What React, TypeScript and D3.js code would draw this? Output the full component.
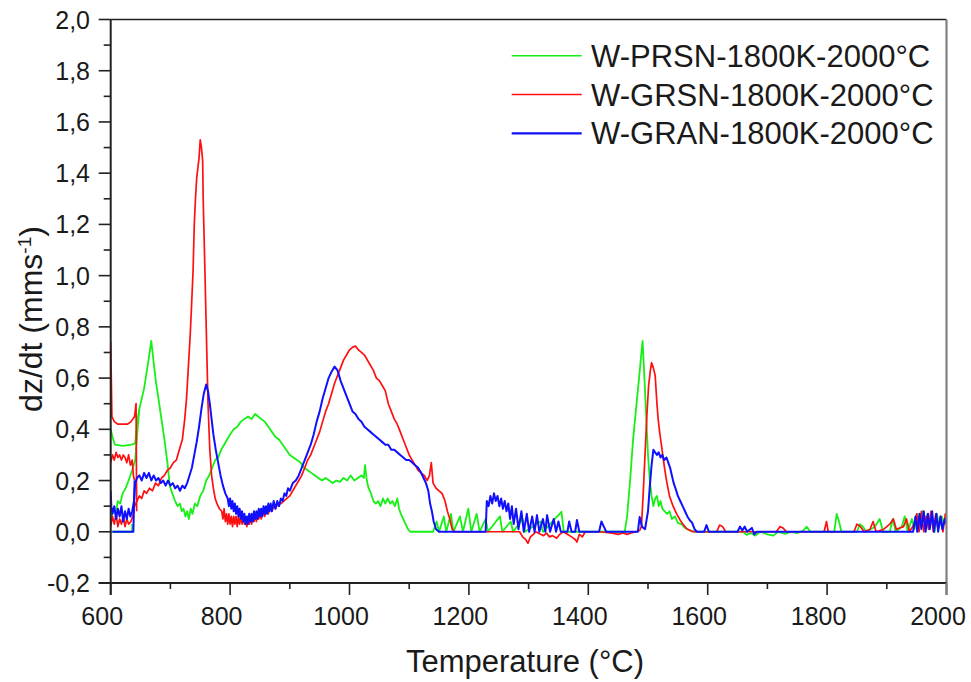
import React from "react";
import * as d3 from "d3";

type Pt = [number, number];

// ---------- axis ticks ----------
const xMajorTicks = [600, 800, 1000, 1200, 1400, 1600, 1800, 2000];
const xMinorTicks = [700, 900, 1100, 1300, 1500, 1700, 1900];
const yMajorTicks = [-0.2, 0, 0.2, 0.4, 0.6, 0.8, 1.0, 1.2, 1.4, 1.6, 1.8, 2.0];
const yMinorTicks = [-0.1, 0.1, 0.3, 0.5, 0.7, 0.9, 1.1, 1.3, 1.5, 1.7, 1.9];

const seriesNames = ["W-PRSN-1800K-2000°C", "W-GRSN-1800K-2000°C", "W-GRAN-1800K-2000°C"];
const seriesColors = ["#16f016", "#ff1010", "#1010ff"];

// ---------- W-PRSN (green) ----------
const prsnStartFlat: Pt[] = [[600, 0.0], [636, 0.0], [636, 0.03]];
const prsnStartUpper: Pt[] = [[600, 0.40], [603, 0.37], [607, 0.34], [620, 0.335], [635, 0.34], [641, 0.345], [644, 0.42], [648, 0.48]];
const prsnMain: Pt[] = [
  [601, 0.05], [604, 0.09], [608, 0.07], [612, 0.12], [616, 0.11], [620, 0.15], [625, 0.17], [630, 0.2], [636, 0.24], [641, 0.28],
  [645, 0.4], [648, 0.48], [652, 0.52], [656, 0.56], [660, 0.62], [664, 0.68], [668, 0.745], [672, 0.66], [676, 0.58], [680, 0.52],
  [685, 0.44], [690, 0.36], [695, 0.27], [699, 0.18], [703, 0.15], [708, 0.12], [712, 0.1], [716, 0.11], [719, 0.08], [722, 0.09],
  [725, 0.06], [728, 0.08], [731, 0.05], [734, 0.09], [737, 0.07], [741, 0.11], [745, 0.1], [750, 0.14], [755, 0.16], [760, 0.2],
  [765, 0.22], [770, 0.25], [775, 0.28], [780, 0.29], [785, 0.32], [790, 0.34], [795, 0.36], [800, 0.38], [806, 0.4], [812, 0.41],
  [818, 0.43], [824, 0.44], [830, 0.45], [836, 0.44], [842, 0.46], [847, 0.45], [852, 0.44], [858, 0.43], [864, 0.41], [870, 0.39],
  [876, 0.37], [882, 0.36], [888, 0.34], [894, 0.32], [900, 0.3], [906, 0.29], [912, 0.28], [918, 0.27], [924, 0.25], [930, 0.24],
  [936, 0.23], [942, 0.22], [948, 0.21], [954, 0.2], [960, 0.21], [966, 0.2], [972, 0.19], [978, 0.2], [984, 0.195], [990, 0.21],
  [996, 0.2], [1002, 0.22], [1008, 0.2], [1014, 0.21], [1020, 0.22], [1024, 0.21], [1026, 0.26], [1029, 0.2], [1032, 0.17], [1036, 0.15],
  [1040, 0.12], [1044, 0.11], [1048, 0.12], [1052, 0.1], [1056, 0.13], [1060, 0.11], [1064, 0.13], [1068, 0.11], [1072, 0.12], [1076, 0.1],
  [1080, 0.13], [1083, 0.09], [1086, 0.07], [1090, 0.05], [1094, 0.03], [1098, 0.01], [1102, 0.0], [1140, 0.0], [1146, 0.04], [1150, 0.0],
  [1158, 0.06], [1162, 0.0], [1170, 0.07], [1174, 0.0], [1185, 0.06], [1190, 0.0], [1199, 0.09], [1204, 0.0], [1213, 0.07], [1218, 0.0],
  [1228, 0.05], [1232, 0.0], [1252, 0.06], [1256, 0.0], [1270, 0.04], [1274, 0.0], [1290, 0.05], [1294, 0.0], [1320, 0.04], [1324, 0.0],
  [1355, 0.078], [1359, 0.0], [1461, 0.0], [1465, 0.06], [1470, 0.2], [1475, 0.36], [1480, 0.48], [1485, 0.6], [1489, 0.7], [1491, 0.745],
  [1494, 0.6], [1497, 0.45], [1500, 0.3], [1503, 0.2], [1506, 0.14], [1509, 0.1], [1512, 0.13], [1515, 0.14], [1518, 0.1], [1521, 0.12],
  [1524, 0.09], [1528, 0.08], [1532, 0.07], [1536, 0.08], [1540, 0.05], [1545, 0.06], [1550, 0.035], [1556, 0.03], [1562, 0.015], [1570, 0.005],
  [1580, 0.0], [1660, 0.0], [1665, -0.012], [1672, -0.005], [1680, -0.015], [1688, 0.0], [1700, -0.01], [1710, -0.015], [1718, 0.0], [1730, -0.008],
  [1740, 0.0], [1750, -0.005], [1760, 0.005], [1766, 0.02], [1772, 0.0], [1812, 0.0], [1816, 0.07], [1820, 0.04], [1824, 0.0], [1850, 0.0],
  [1855, 0.03], [1860, 0.02], [1866, 0.0], [1880, 0.02], [1888, 0.05], [1894, 0.0], [1905, 0.0], [1910, 0.05], [1915, 0.0], [1925, 0.02],
  [1930, 0.06], [1935, 0.0], [1942, 0.05], [1946, 0.01], [1952, 0.07], [1956, 0.02], [1960, 0.08], [1964, 0.01], [1968, 0.07], [1972, 0.02],
  [1976, 0.06], [1980, 0.0], [1984, 0.07], [1988, 0.02], [1992, 0.06], [1996, 0.03], [2000, 0.05],
];

// ---------- W-GRSN (red) ----------
const grsnStartUpper: Pt[] = [[600, 0.74], [601, 0.6], [602, 0.45], [606, 0.43], [612, 0.42], [620, 0.42], [628, 0.42], [634, 0.43], [640, 0.45], [642.5, 0.5], [643, 0.3], [643.5, 0.08]];
const grsnStartMiddle: Pt[] = [[600, 0.27], [603, 0.3], [606, 0.28], [609, 0.31], [612, 0.29], [615, 0.3], [618, 0.28], [621, 0.3], [624, 0.29], [627, 0.27], [630, 0.3], [633, 0.26], [636, 0.28], [638, 0.22], [640, 0.2]];
const grsnMain: Pt[] = [
  [600, 0.02], [603, 0.06], [606, 0.03], [609, 0.07], [612, 0.02], [615, 0.05], [618, 0.03], [621, 0.06], [624, 0.02], [627, 0.05],
  [630, 0.03], [634, 0.04], [637, 0.06], [640, 0.1], [644, 0.12], [648, 0.14], [652, 0.13], [656, 0.16], [660, 0.15], [665, 0.17],
  [670, 0.16], [675, 0.19], [680, 0.18], [685, 0.21], [690, 0.22], [695, 0.24], [700, 0.25], [705, 0.27], [710, 0.28], [715, 0.32],
  [720, 0.36], [724, 0.44], [727, 0.52], [730, 0.64], [733, 0.76], [735, 0.86], [738, 1.02], [740, 1.2], [742, 1.3], [744, 1.38],
  [746, 1.42], [748, 1.46], [750, 1.53], [752, 1.5], [754, 1.45], [755, 1.29], [757, 1.1], [759, 0.9], [761, 0.7], [763, 0.5],
  [766, 0.32], [769, 0.22], [772, 0.17], [775, 0.13], [778, 0.11], [782, 0.09], [786, 0.08], [788, 0.05], [790, 0.09], [792, 0.04],
  [794, 0.07], [796, 0.03], [798, 0.07], [800, 0.03], [802, 0.06], [804, 0.02], [806, 0.06], [808, 0.03], [810, 0.06], [812, 0.02],
  [814, 0.06], [816, 0.03], [818, 0.06], [820, 0.03], [822, 0.06], [824, 0.03], [826, 0.05], [828, 0.02], [830, 0.06], [832, 0.03],
  [834, 0.06], [836, 0.03], [838, 0.06], [840, 0.04], [842, 0.07], [844, 0.04], [846, 0.07], [848, 0.05], [850, 0.08], [852, 0.05],
  [855, 0.08], [858, 0.06], [861, 0.09], [864, 0.07], [867, 0.1], [870, 0.08], [873, 0.1], [876, 0.09], [880, 0.11], [885, 0.11],
  [890, 0.12], [895, 0.13], [900, 0.14], [905, 0.16], [910, 0.18], [915, 0.2], [920, 0.22], [925, 0.25], [930, 0.28], [935, 0.3],
  [940, 0.33], [945, 0.36], [950, 0.39], [955, 0.43], [960, 0.47], [965, 0.5], [970, 0.54], [975, 0.58], [980, 0.61], [985, 0.64],
  [990, 0.67], [995, 0.69], [1000, 0.71], [1005, 0.72], [1010, 0.725], [1015, 0.71], [1020, 0.7], [1025, 0.69], [1030, 0.67], [1035, 0.65],
  [1040, 0.63], [1045, 0.6], [1050, 0.59], [1055, 0.57], [1060, 0.55], [1065, 0.5], [1070, 0.47], [1075, 0.44], [1080, 0.42], [1085, 0.39],
  [1090, 0.36], [1095, 0.33], [1100, 0.3], [1105, 0.28], [1110, 0.26], [1115, 0.24], [1120, 0.23], [1125, 0.22], [1130, 0.2], [1134, 0.22],
  [1137, 0.27], [1140, 0.19], [1145, 0.17], [1150, 0.16], [1155, 0.15], [1160, 0.12], [1164, 0.08], [1168, 0.05], [1172, 0.01], [1176, 0.0],
  [1285, 0.0], [1290, -0.02], [1295, -0.03], [1299, -0.045], [1303, -0.02], [1308, -0.01], [1312, 0.0], [1320, -0.01], [1325, -0.015], [1330, -0.005],
  [1335, -0.02], [1340, -0.015], [1347, -0.025], [1352, -0.01], [1358, 0.0], [1365, -0.01], [1372, -0.02], [1378, -0.03], [1381, -0.04], [1385, -0.01],
  [1390, -0.02], [1395, 0.0], [1420, 0.0], [1440, -0.005], [1450, -0.01], [1458, -0.005], [1465, -0.01], [1472, -0.005], [1480, 0.0], [1486, 0.005],
  [1489, 0.02], [1492, 0.15], [1495, 0.3], [1498, 0.45], [1501, 0.57], [1504, 0.63], [1506, 0.66], [1509, 0.64], [1512, 0.61], [1515, 0.5],
  [1517, 0.44], [1520, 0.38], [1523, 0.33], [1527, 0.26], [1531, 0.2], [1536, 0.14], [1542, 0.1], [1548, 0.07], [1554, 0.045], [1560, 0.025],
  [1565, 0.012], [1575, 0.0], [1615, 0.0], [1620, 0.026], [1625, 0.02], [1630, 0.0], [1715, 0.0], [1721, 0.02], [1726, 0.015], [1732, 0.0],
  [1795, 0.0], [1799, 0.04], [1802, 0.0], [1845, 0.0], [1850, 0.03], [1856, 0.02], [1862, 0.0], [1872, 0.01], [1877, 0.04], [1882, 0.0],
  [1895, 0.01], [1905, 0.03], [1911, 0.05], [1916, 0.01], [1928, 0.02], [1933, 0.05], [1938, 0.0], [1946, 0.03], [1950, 0.07], [1954, 0.0],
  [1958, 0.08], [1962, 0.0], [1966, 0.06], [1970, 0.01], [1974, 0.08], [1978, 0.0], [1982, 0.07], [1986, 0.01], [1990, 0.06], [1994, 0.0],
  [1998, 0.07], [2000, 0.03],
];

// ---------- W-GRAN (blue) ----------
const granStartFlat: Pt[] = [[603, 0.0], [638, 0.0], [640, 0.2]];
const granMain: Pt[] = [
  [600, 0.16], [601, 0.1], [603, 0.07], [606, 0.1], [609, 0.05], [612, 0.09], [615, 0.06], [618, 0.1], [621, 0.04], [624, 0.08],
  [627, 0.05], [630, 0.09], [633, 0.06], [636, 0.08], [639, 0.12], [641, 0.19], [644, 0.21], [648, 0.22], [652, 0.2], [656, 0.23],
  [660, 0.21], [664, 0.23], [668, 0.2], [672, 0.22], [676, 0.2], [680, 0.21], [684, 0.19], [688, 0.2], [692, 0.18], [696, 0.2],
  [700, 0.18], [704, 0.19], [708, 0.17], [712, 0.18], [716, 0.16], [720, 0.18], [724, 0.17], [728, 0.19], [732, 0.22], [736, 0.25],
  [740, 0.3], [744, 0.35], [748, 0.41], [752, 0.48], [756, 0.54], [760, 0.575], [763, 0.55], [766, 0.5], [769, 0.44], [772, 0.38],
  [776, 0.32], [780, 0.27], [784, 0.22], [788, 0.18], [792, 0.15], [796, 0.13], [798, 0.1], [800, 0.13], [802, 0.09], [804, 0.12],
  [806, 0.08], [808, 0.11], [810, 0.07], [812, 0.1], [814, 0.06], [816, 0.09], [818, 0.05], [820, 0.08], [822, 0.04], [824, 0.07],
  [826, 0.03], [828, 0.06], [830, 0.03], [832, 0.07], [834, 0.04], [836, 0.07], [838, 0.04], [840, 0.08], [842, 0.05], [844, 0.08],
  [846, 0.05], [848, 0.09], [850, 0.06], [852, 0.09], [854, 0.06], [856, 0.1], [858, 0.07], [860, 0.1], [862, 0.07], [864, 0.11],
  [866, 0.08], [868, 0.11], [870, 0.08], [873, 0.12], [876, 0.09], [879, 0.12], [882, 0.1], [885, 0.13], [888, 0.12], [891, 0.15],
  [894, 0.14], [897, 0.17], [900, 0.16], [905, 0.19], [910, 0.2], [915, 0.22],
  [920, 0.25], [925, 0.28], [930, 0.31], [935, 0.34], [940, 0.38], [945, 0.43], [950, 0.47], [955, 0.52], [960, 0.56], [965, 0.6],
  [970, 0.625], [975, 0.645], [980, 0.63], [985, 0.59], [990, 0.56], [995, 0.53], [1000, 0.5], [1005, 0.47], [1010, 0.46], [1015, 0.44],
  [1020, 0.43], [1025, 0.41], [1030, 0.4], [1035, 0.39], [1040, 0.38], [1045, 0.37], [1050, 0.36], [1055, 0.35], [1060, 0.34], [1065, 0.34],
  [1070, 0.32], [1075, 0.32], [1080, 0.31], [1085, 0.3], [1090, 0.29], [1095, 0.28], [1100, 0.28], [1105, 0.27], [1110, 0.26], [1115, 0.25],
  [1120, 0.23], [1124, 0.21], [1128, 0.19], [1132, 0.16], [1135, 0.11], [1138, 0.08], [1141, 0.04], [1145, 0.01], [1150, 0.0], [1228, 0.0],
  [1230, 0.12], [1233, 0.1], [1236, 0.14], [1239, 0.11], [1242, 0.15], [1245, 0.12], [1248, 0.14], [1251, 0.1], [1254, 0.13], [1257, 0.09],
  [1260, 0.12], [1263, 0.08], [1266, 0.11], [1269, 0.05], [1272, 0.1], [1275, 0.03], [1279, 0.09], [1283, 0.01], [1288, 0.08], [1292, 0.0],
  [1297, 0.07], [1301, 0.0], [1306, 0.06], [1310, 0.0], [1314, 0.065], [1318, 0.0], [1324, 0.05], [1328, 0.0], [1331, 0.065], [1336, 0.0],
  [1342, 0.05], [1346, 0.0], [1350, 0.04], [1354, 0.0], [1365, 0.0], [1368, 0.04], [1372, 0.0], [1378, 0.0], [1381, 0.046], [1385, 0.0],
  [1418, 0.0], [1422, 0.04], [1426, 0.02], [1430, 0.0], [1483, 0.0], [1486, 0.058], [1490, 0.02], [1495, 0.01], [1500, 0.08], [1503, 0.176],
  [1506, 0.26], [1509, 0.32], [1512, 0.31], [1515, 0.3], [1518, 0.31], [1521, 0.29], [1524, 0.3], [1527, 0.28], [1531, 0.29], [1534, 0.27],
  [1537, 0.25], [1540, 0.22], [1543, 0.19], [1546, 0.17], [1550, 0.14], [1554, 0.12], [1558, 0.1], [1562, 0.08], [1566, 0.06], [1570, 0.045],
  [1574, 0.035], [1578, 0.01], [1582, 0.0], [1594, 0.0], [1598, 0.026], [1602, 0.0], [1650, 0.0], [1654, 0.02], [1658, 0.005], [1662, 0.02],
  [1666, 0.0], [1674, 0.015], [1678, -0.01], [1682, 0.0], [1944, 0.0], [1948, 0.06], [1951, 0.0], [1955, 0.07], [1958, 0.01], [1962, 0.08],
  [1965, 0.0], [1969, 0.07], [1972, 0.01], [1976, 0.08], [1979, 0.0], [1983, 0.07], [1986, 0.0], [1990, 0.06], [1993, 0.01], [1997, 0.05],
  [2000, 0.03],
];

const seriesSegments: Pt[][][] = [
  [prsnStartFlat, prsnStartUpper, prsnMain],
  [grsnStartUpper, grsnStartMiddle, grsnMain],
  [granStartFlat, granMain],
];
const seriesWidths = [1.8, 1.7, 2.0];

const W = 971;
const H = 682;
const FONT = "'Liberation Sans', Arial, Helvetica, sans-serif";

export default function App() {
  const left = 110.7, right = 946.5, top = 19.5, bottom = 583;
  const x = d3.scaleLinear().domain([600, 2000]).range([left, right]);
  const y = d3.scaleLinear().domain([-0.2, 2.0]).range([bottom, top]);
  const line = d3.line<Pt>().x((d) => x(d[0])).y((d) => y(d[1]));
  const fmt = (v: number) => d3.format(".1f")(v).replace(".", ",").replace("\u2212", "-");

  return (
    <svg width={W} height={H} style={{ position: "absolute", left: 0, top: 0, background: "#fff" }} fontFamily={FONT}>
      <rect width={W} height={H} fill="#fff" />
      <defs>
        <clipPath id="plotClip">
          <rect x={left} y={top} width={right - left} height={bottom - top} />
        </clipPath>
      </defs>

      {/* series */}
      <g clipPath="url(#plotClip)" fill="none" strokeLinejoin="round">
        {seriesSegments.map((segs, i) =>
          segs.map((seg, j) => (
            <path key={`${i}-${j}`} d={line(seg) || ""} stroke={seriesColors[i]} strokeWidth={seriesWidths[i]} />
          ))
        )}
      </g>

      {/* frame */}
      <line x1={left} x2={right} y1={top} y2={top} stroke="#222" strokeWidth={1.6} />
      <line x1={right} x2={right} y1={top} y2={bottom + 12} stroke="#808080" strokeWidth={2.2} />
      <line x1={left} x2={left} y1={top} y2={bottom + 12} stroke="#222" strokeWidth={2} />
      <line x1={left - 12} x2={right} y1={bottom} y2={bottom} stroke="#222" strokeWidth={2} />

      {/* y ticks */}
      {yMajorTicks.map((t) => (
        <g key={`ym${t}`}>
          <line x1={left - 12} x2={left} y1={y(t)} y2={y(t)} stroke="#222" strokeWidth={1.6} />
          <text x={90} y={y(t)} dy="0.36em" textAnchor="end" fontSize={25} fill="#1a1a1a">{fmt(t)}</text>
        </g>
      ))}
      {yMinorTicks.map((t) => (
        <line key={`yn${t}`} x1={left - 7} x2={left} y1={y(t)} y2={y(t)} stroke="#222" strokeWidth={1.6} />
      ))}

      {/* x ticks */}
      {xMajorTicks.map((t) => (
        <g key={`xm${t}`}>
          <line x1={x(t)} x2={x(t)} y1={bottom} y2={bottom + 12} stroke={t === 2000 ? "#808080" : "#222"} strokeWidth={t === 2000 ? 2.2 : 1.6} />
          <text x={x(t) - 8.5} y={625} textAnchor="middle" fontSize={25} fill="#1a1a1a">{t}</text>
        </g>
      ))}
      {xMinorTicks.map((t) => (
        <line key={`xn${t}`} x1={x(t)} x2={x(t)} y1={bottom} y2={bottom + 6} stroke="#222" strokeWidth={1.6} />
      ))}

      {/* axis titles */}
      <text x={525} y={671.5} textAnchor="middle" fontSize={31} fill="#1a1a1a">Temperature (°C)</text>
      <text transform="translate(41.5,319) rotate(-90)" textAnchor="middle" fontSize={32} fill="#1a1a1a">
        dz/dt (mms<tspan dy={-11} fontSize={19}>-1</tspan><tspan dy={11}>)</tspan>
      </text>

      {/* legend */}
      {seriesNames.map((name, i) => (
        <g key={name}>
          <line x1={511.7} x2={581.7} y1={55.7 + i * 38.8} y2={55.7 + i * 38.8} stroke={seriesColors[i]} strokeWidth={i === 2 ? 2.2 : 1.6} />
          <text x={591} y={66.8 + i * 38.8} fontSize={31} fill="#1a1a1a">{name}</text>
        </g>
      ))}
    </svg>
  );
}
